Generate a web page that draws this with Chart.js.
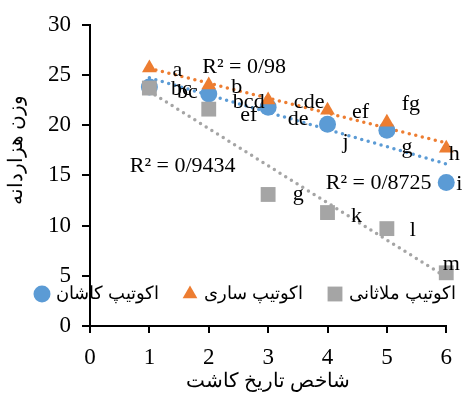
<!DOCTYPE html>
<html>
<head>
<meta charset="utf-8">
<script src="https://cdn.jsdelivr.net/npm/chart.js@4.4.0/dist/chart.umd.min.js"></script>
<style>
  body { margin: 0; background: #fff; }
  #wrap { width: 463px; height: 394px; }
</style>
</head>
<body>
<div id="wrap"><canvas id="myChart"></canvas></div>
<script>
var xVals = [1, 2, 3, 4, 5, 6];
var kashan = [23.8, 23.1, 21.8, 20.1, 19.5, 14.3];
var sari = [25.7, 24.0, 22.5, 21.5, 20.3, 17.7];
var malathani = [23.7, 21.6, 13.1, 11.3, 9.7, 5.3];
var seriesNames = ['اکوتیپ کاشان', 'اکوتیپ ساری', 'اکوتیپ ملاثانی'];
var kashanLetters = ['bc', 'bcd', 'de', 'j', 'g', 'i'];
var sariLetters = ['a', 'b', 'cde', 'ef', 'fg', 'h'];
var malathaniLetters = ['bc', 'ef', 'g', 'k', 'l', 'm'];
var r2Labels = ['R² = 0/8725', 'R² = 0/98', 'R² = 0/9434'];
var yTicks = [0, 5, 10, 15, 20, 25, 30];
var xTicks = [0, 1, 2, 3, 4, 5, 6];
var xTitle = 'شاخص تاریخ کاشت';
var yTitle = 'وزن هزاردانه';

var FONT = "'Liberation Serif', 'Times New Roman', 'DejaVu Serif', serif";
var blue = '#5B9BD5', orange = '#ED7D31', gray = '#A5A5A5';

function pts(ys) {
  return xVals.map(function (x, i) { return { x: x, y: ys[i] }; });
}
// least squares trend line (as Excel draws it)
function trend(ys) {
  var n = xVals.length, mx = 0, my = 0;
  for (var i = 0; i < n; i++) { mx += xVals[i]; my += ys[i]; }
  mx /= n; my /= n;
  var sxy = 0, sxx = 0;
  for (i = 0; i < n; i++) { sxy += (xVals[i] - mx) * (ys[i] - my); sxx += (xVals[i] - mx) * (xVals[i] - mx); }
  var b = sxy / sxx, a = my - b * mx;
  var x0 = xVals[0], x1 = xVals[n - 1];
  return [{ x: x0, y: a + b * x0 }, { x: x1, y: a + b * x1 }];
}
function trendSet(ys, color) {
  return {
    data: trend(ys), showLine: true, pointRadius: 0, borderColor: color,
    borderWidth: 3.5, borderDash: [0, 6.7], borderCapStyle: 'round',
    order: 10, clip: false
  };
}

// letter positions: offset in px from each point
var letterSpec = [
  { letters: kashanLetters, ys: kashan, off: [[32, 2], [40, 8], [30, 12], [18, 18], [20, 17], [13, 2]] },
  { letters: sariLetters, ys: sari, off: [[28, 2], [28, 2], [41, 2], [33, 2], [24, -18], [8, 6]] },
  { letters: malathaniLetters, ys: malathani, off: [[38, 4], [40, 6], [30, 0], [29, 4], [26, 2], [5, -9]] }
];
// R² labels: data coordinates of left edge
var r2Pos = [[3.97, 14.2], [1.89, 25.8], [0.67, 15.9]];

var labelsPlugin = {
  id: 'labels',
  afterDatasetsDraw: function (chart) {
    var ctx = chart.ctx, xs = chart.scales.x, ys = chart.scales.y;
    ctx.save();
    ctx.fillStyle = '#000';
    ctx.font = '22px ' + FONT;
    ctx.textAlign = 'center';
    ctx.textBaseline = 'middle';
    letterSpec.forEach(function (s) {
      s.letters.forEach(function (t, i) {
        var px = xs.getPixelForValue(xVals[i]) + s.off[i][0];
        var py = ys.getPixelForValue(s.ys[i]) + s.off[i][1];
        ctx.fillText(t, px, py);
      });
    });
    ctx.textAlign = 'left';
    r2Labels.forEach(function (t, i) {
      ctx.fillText(t, xs.getPixelForValue(r2Pos[i][0]), ys.getPixelForValue(r2Pos[i][1]));
    });

    // y axis title
    ctx.save();
    ctx.font = '20px ' + FONT;
    ctx.textAlign = 'center';
    ctx.translate(17, 150);
    ctx.rotate(-Math.PI / 2);
    ctx.fillText(yTitle, 0, 0);
    ctx.restore();

    // legend inside plot
    var lx = [42, 190, 335], ly = 294;
    ctx.font = '18px ' + FONT;
    ctx.textAlign = 'left';
    [0, 1, 2].forEach(function (i) {
      var ds = chart.data.datasets[i];
      ctx.fillStyle = ds.backgroundColor;
      Chart.helpers.drawPoint(ctx, { pointStyle: ds.pointStyle, rotation: 0, radius: ds.pointRadius, borderWidth: 0 }, lx[i], ly);
      ctx.fillStyle = '#000';
      ctx.fillText(seriesNames[i], lx[i] + 14, ly);
    });
    ctx.restore();
  }
};

var ctx = document.getElementById('myChart');
var myChart = new Chart(ctx, {
  type: 'scatter',
  data: {
    datasets: [
      { label: seriesNames[0], data: pts(kashan), pointStyle: 'circle', pointRadius: 8.5, backgroundColor: blue, borderWidth: 0, order: 3, clip: false },
      { label: seriesNames[1], data: pts(sari), pointStyle: 'triangle', pointRadius: 8.5, backgroundColor: orange, borderWidth: 0, order: 2, clip: false },
      { label: seriesNames[2], data: pts(malathani), pointStyle: 'rect', pointRadius: 10.5, backgroundColor: gray, borderWidth: 0, order: 1, clip: false },
      trendSet(kashan, blue),
      trendSet(sari, orange),
      trendSet(malathani, gray)
    ]
  },
  options: {
    responsive: true,
    maintainAspectRatio: false,
    animation: false,
    layout: { padding: { top: 22, right: 15, left: 0, bottom: 0 } },
    plugins: { legend: { display: false }, tooltip: { enabled: false } },
    scales: {
      x: {
        type: 'linear', min: 0, max: 6,
        afterBuildTicks: function (s) { s.ticks = xTicks.map(function (v) { return { value: v }; }); },
        afterFit: function (s) { s.height = 68; },
        border: { color: '#000', width: 2 },
        grid: { drawOnChartArea: false, color: '#000', lineWidth: 2, tickLength: 7 },
        ticks: { color: '#000', font: { family: FONT, size: 23 }, padding: 11 },
        title: { display: true, text: xTitle, color: '#000', font: { family: FONT, size: 20 }, padding: 0 }
      },
      y: {
        min: 0, max: 30,
        afterBuildTicks: function (s) { s.ticks = yTicks.map(function (v) { return { value: v }; }); },
        afterFit: function (s) { s.width = 90; },
        border: { color: '#000', width: 2 },
        grid: { drawOnChartArea: false, color: '#000', lineWidth: 2, tickLength: 8 },
        ticks: { color: '#000', font: { family: FONT, size: 23 }, padding: 11 }
      }
    }
  },
  plugins: [labelsPlugin]
});
</script>
</body>
</html>
